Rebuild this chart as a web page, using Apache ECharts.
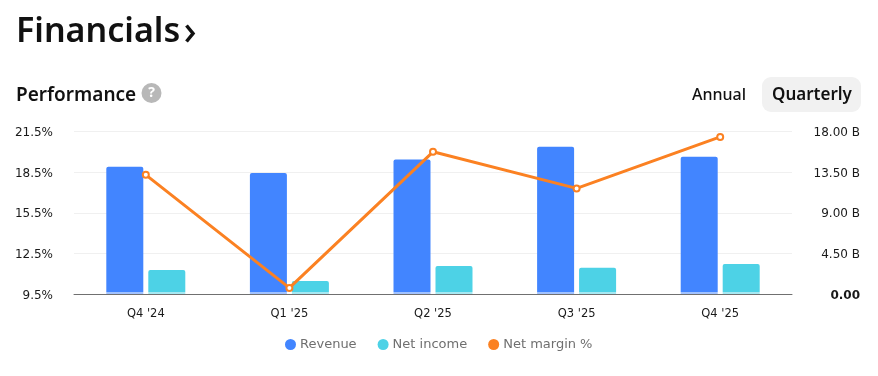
<!DOCTYPE html>
<html>
<head>
<meta charset="utf-8">
<title>Financials</title>
<script src="https://cdn.jsdelivr.net/npm/echarts@6/dist/echarts.min.js"></script>
<style>
html, body { margin: 0; padding: 0; background: #fff; }
#chart { width: 878px; height: 376px; }
</style>
</head>
<body>
<div id="chart"></div>
<script>
const quarters = ["Q4 '24", "Q1 '25", "Q2 '25", "Q3 '25", "Q4 '25"]
const revenue = [14.1, 13.4, 14.9, 16.3, 15.2]
const netIncome = [2.67, 1.44, 3.1, 2.9, 3.33]
const netMargin = [18.3, 9.95, 20.0, 17.3, 21.1]
const marginTicks = ['9.5%', '12.5%', '15.5%', '18.5%', '21.5%']
const valueTicks = ['0.00', '4.50 B', '9.00 B', '13.50 B', '18.00 B']

const font = 'DejaVu Sans'
const headFont = 'Noto Sans'

// rich text, otherwise the label padding does not move the text
const tickRich = {
  t: { fontFamily: font, fontSize: 12, color: '#1a1a1a' },
  zero: { fontFamily: font, fontSize: 12, fontWeight: 'bold', color: '#1a1a1a' }
}

const chart = echarts.init(document.getElementById('chart'))
chart.setOption({
  animation: false,
  textStyle: { fontFamily: font },
  grid: { left: 74, right: 86, top: 131.5, height: 162.5 },
  legend: {
    left: 280,
    top: 333,
    icon: 'circle',
    itemWidth: 11,
    itemHeight: 11,
    itemGap: 21,
    textStyle: { fontFamily: font, fontSize: 13, color: '#6f6f6f', padding: [0, 0, 0, -1] },
    data: [
      { name: 'Revenue' },
      { name: 'Net income' },
      { name: 'Net margin %', itemStyle: { color: '#fb8122', borderWidth: 0 } }
    ]
  },
  xAxis: {
    type: 'category',
    data: quarters,
    axisTick: { show: false },
    axisLine: { lineStyle: { color: '#707070', width: 1 } },
    axisLabel: { margin: 14, fontFamily: font, fontSize: 11.5, color: '#1a1a1a' }
  },
  yAxis: [
    {
      type: 'value',
      min: 9.5,
      max: 21.5,
      interval: 3,
      axisLine: { show: false },
      axisTick: { show: false },
      splitLine: { lineStyle: { color: '#f0f0f0', width: 1 } },
      axisLabel: {
        margin: 21,
        padding: [3, 0, 0, 0],
        formatter: (v, i) => '{t|' + marginTicks[i] + '}',
        rich: tickRich
      }
    },
    {
      type: 'value',
      min: 0,
      max: 18,
      interval: 4.5,
      position: 'right',
      axisLine: { show: false },
      axisTick: { show: false },
      splitLine: { show: false },
      axisLabel: {
        margin: 68,
        align: 'right',
        padding: [3, 0, 0, 0],
        formatter: (v, i) => '{' + (i === 0 ? 'zero' : 't') + '|' + valueTicks[i] + '}',
        rich: tickRich
      }
    }
  ],
  series: [
    {
      name: 'Revenue',
      type: 'bar',
      yAxisIndex: 1,
      data: revenue,
      barWidth: 37,
      barGap: '13.5%',
      itemStyle: { color: '#4285ff', borderRadius: [2, 2, 0, 0] }
    },
    {
      name: 'Net income',
      type: 'bar',
      yAxisIndex: 1,
      data: netIncome,
      barWidth: 37,
      itemStyle: { color: '#4dd2e6', borderRadius: [2, 2, 0, 0] }
    },
    {
      name: 'Net margin %',
      type: 'line',
      yAxisIndex: 0,
      data: netMargin,
      symbol: 'circle',
      symbolSize: 6,
      z: 5,
      lineStyle: { color: '#fb8122', width: 3 },
      itemStyle: { color: '#fff', borderColor: '#fb8122', borderWidth: 2 }
    }
  ],
  graphic: [
    { type: 'text', left: 16, top: 15, style: { text: 'Financials', fontFamily: headFont, fontSize: 34, fontWeight: 600, fill: '#111' } },
    { type: 'polyline', shape: { points: [[186.5, 25.5], [193, 33.5], [186.5, 41.5]] }, style: { stroke: '#111', lineWidth: 3.5, fill: 'none' } },
    { type: 'text', left: 16, top: 86, style: { text: 'Performance', fontFamily: headFont, fontSize: 19, fontWeight: 600, fill: '#111' } },
    { type: 'circle', shape: { cx: 151.5, cy: 93, r: 10 }, style: { fill: '#b8b8b8' } },
    { type: 'text', x: 151.5, y: 93, style: { text: '?', align: 'center', verticalAlign: 'middle', fontFamily: headFont, fontSize: 14, fontWeight: 700, fill: '#fff' } },
    { type: 'text', left: 692, top: 87, style: { text: 'Annual', fontFamily: headFont, fontSize: 16, fontWeight: 500, fill: '#111' } },
    { type: 'rect', shape: { x: 762, y: 77, width: 99, height: 35, r: 9 }, style: { fill: '#f1f1f1' } },
    { type: 'text', left: 772, top: 87, z: 10, style: { text: 'Quarterly', fontFamily: headFont, fontSize: 17, fontWeight: 600, fill: '#111' } },
    { type: 'line', z: 3, shape: { x1: 74, y1: 293, x2: 792, y2: 293 }, style: { stroke: '#fff', lineWidth: 1 } }
  ]
})
</script>
</body>
</html>
